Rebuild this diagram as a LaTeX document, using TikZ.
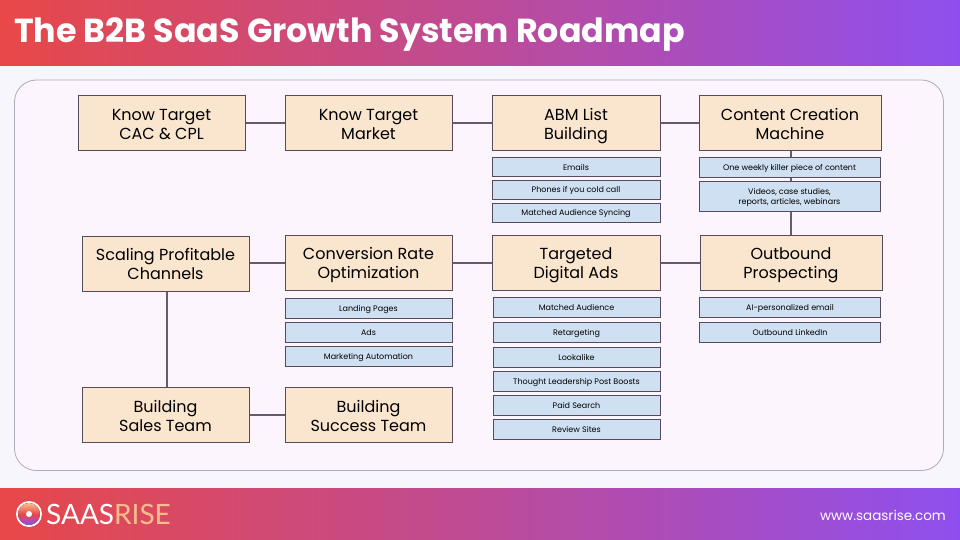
\documentclass[tikz,border=0pt]{standalone}
\usepackage{fontspec}
\setmainfont{Poppins}
\newfontfamily\logofont{Lato}
\usepackage{xcolor}
\usetikzlibrary{positioning}
\definecolor{notered}{RGB}{232, 72, 72}
\definecolor{notemid}{RGB}{190, 75, 150}
\definecolor{notepurple}{RGB}{143, 79, 239}
\definecolor{slidebg}{RGB}{248, 246, 253}
\definecolor{panelbg}{RGB}{252, 245, 254}
\definecolor{panelline}{RGB}{176, 170, 186}
\definecolor{boxline}{RGB}{84, 76, 92}
\definecolor{linkline}{RGB}{100, 92, 108}
\definecolor{stepfill}{RGB}{250, 229, 207}
\definecolor{subfill}{RGB}{207, 224, 242}
\definecolor{logopeach}{RGB}{250, 190, 140}
\tikzset{
  stepbox/.style={draw=boxline, fill=stepfill, line width=1pt, inner sep=0pt, align=center,
    minimum width=167pt, minimum height=55pt, font=\fontsize{16}{19}\selectfont,
    execute at begin node={\rule{0pt}{38pt}}, execute at end node={\rule[-5.2pt]{0pt}{5.2pt}}},
  widestep/.style={stepbox, minimum width=182pt},
  subbox/.style={draw=boxline, fill=subfill, line width=0.9pt, inner sep=0pt, align=center,
    minimum width=168pt, minimum height=19pt, font=\fontsize{8}{10}\selectfont,
    execute at begin node={\rule{0pt}{9pt}}, execute at end node={\rule[-2.5pt]{0pt}{2.5pt}}},
  widesub/.style={subbox, minimum width=181pt},
  link/.style={draw=linkline, line width=2pt},
  hlink/.style={link, yshift=-1pt}
}
\begin{document}
\begin{tikzpicture}[x=1pt, y=-1pt]
  \useasboundingbox (0,0) rectangle (960,540);
  \fill[slidebg] (0,0) rectangle (960,540);

  % Bands
  \fill[left color=notered, right color=notepurple, middle color=notemid] (0,0) rectangle (960,66);
  \fill[left color=notered, right color=notepurple, middle color=notemid] (0,488) rectangle (960,540);
  \node[anchor=west, inner sep=0pt, text=white, font=\fontsize{33.3}{38}\selectfont\bfseries] (title) at (14,34.5) {The B2B SaaS Growth System Roadmap};

  \draw[panelline, fill=panelbg, line width=0.8pt, rounded corners=22pt] (14.5,80) rectangle (943.5,470.5);

  % Main steps
  \node[stepbox] (cac) at (161.5,123) {Know Target\\CAC \& CPL};
  \node[stepbox] (market) at (368.5,123.5) {Know Target\\Market};
  \node[stepbox, minimum width=168pt] (abm) at (576,123.5) {ABM List\\Building};
  \node[widestep] (content) at (790,123.5) {Content Creation\\Machine};
  \node[stepbox] (scaling) at (165.5,263.5) {Scaling Profitable\\Channels};
  \node[stepbox] (cro) at (368.5,262.5) {Conversion Rate\\Optimization};
  \node[stepbox, minimum width=168pt] (ads) at (576,262.5) {Targeted\\Digital Ads};
  \node[widestep] (outbound) at (791,262.5) {Outbound\\Prospecting};
  \node[stepbox] (sales) at (165.5,415) {Building\\Sales Team};
  \node[stepbox] (success) at (368.5,415) {Building\\Success Team};

  \draw[hlink] (cac.east) -- (cac.east -| market.west);
  \draw[hlink] (market.east) -- (market.east -| abm.west);
  \draw[hlink] (abm.east) -- (abm.east -| content.west);
  \draw[link] ([xshift=1pt]content.south) -- (outbound.north);
  \draw[hlink] (outbound.west) -- (outbound.west -| ads.east);
  \draw[hlink] (ads.west) -- (ads.west -| cro.east);
  \draw[hlink] (cro.west) -- (cro.west -| scaling.east);
  \draw[link] ([xshift=1.5pt]scaling.south) -- ([xshift=1.5pt]sales.north);
  \draw[hlink] (sales.east) -- (sales.east -| success.west);

  % Details under each step
  \node[subbox] (emails) at (576,167) {Emails};
  \node[subbox] (phones) at (576,189.5) {Phones if you cold call};
  \node[subbox] (syncing) at (576,212.5) {Matched Audience Syncing};
  \node[widesub, minimum height=20pt] (killer) at (789.5,167) {One weekly killer piece of content};
  \node[widesub, minimum height=30pt, execute at begin node={\rule{0pt}{19.5pt}}] (videos) at (789.5,196) {Videos, case studies,\\reports, articles, webinars};
  \node[subbox, minimum width=167pt, minimum height=20pt] (landing) at (368.5,308) {Landing Pages};
  \node[subbox, minimum width=167pt, minimum height=20pt] (adsbox) at (368.5,332) {Ads};
  \node[subbox, minimum width=167pt, minimum height=20pt] (automation) at (368.5,356) {Marketing Automation};
  \node[subbox, minimum width=167pt, minimum height=20pt] (matched) at (576.5,307) {Matched Audience};
  \node[subbox, minimum width=167pt, minimum height=20pt] (retargeting) at (576.5,332) {Retargeting};
  \node[subbox, minimum width=167pt, minimum height=20pt] (lookalike) at (576.5,357) {Lookalike};
  \node[subbox, minimum width=167pt, minimum height=20pt] (thought) at (576.5,381.5) {Thought Leadership Post Boosts};
  \node[subbox, minimum width=167pt, minimum height=20pt] (paid) at (576.5,405.5) {Paid Search};
  \node[subbox, minimum width=167pt, minimum height=20pt] (review) at (576.5,429.5) {Review Sites};
  \node[widesub, minimum height=20pt] (aiemail) at (790,307) {AI-personalized email};
  \node[widesub, minimum height=20pt] (linkedin) at (790,332) {Outbound LinkedIn};

  % Logo
  \fill[white] (29,514) circle (13);
  \fill[top color=logopeach, bottom color=notepurple, middle color=notered] (29,514) circle (11);
  \fill[white] (29,514) circle (3);
  \node[anchor=west, inner sep=0pt, font=\logofont\fontsize{28}{32}\selectfont] (logo) at (46,514) {\textcolor{white}{SAAS}\textcolor{logopeach}{RISE}};
  \node[anchor=east, inner sep=0pt, text=white, font=\fontsize{13.5}{16}\selectfont] (url) at (946,515) {www.saasrise.com};
\end{tikzpicture}
\end{document}
